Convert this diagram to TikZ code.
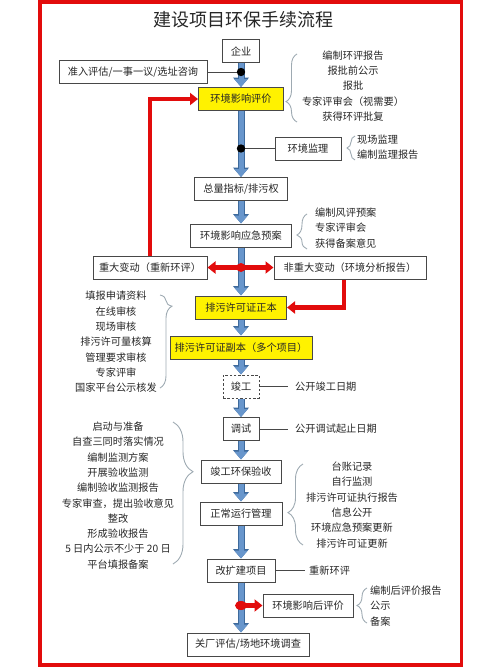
\documentclass[tikz,border=0pt]{standalone}
\usepackage{fontspec}
\setmainfont{Noto Sans CJK SC}
\usepackage{xcolor}
\usepackage{tikz}
\usetikzlibrary{arrows.meta,decorations.pathreplacing}
\definecolor{framered}{RGB}{226,12,12}
\definecolor{flowfill}{RGB}{104,150,204}
\definecolor{flowedge}{RGB}{62,106,156}
\definecolor{bracegray}{RGB}{158,170,178}
\definecolor{boxedge}{RGB}{72,72,72}

\begin{document}
\begin{tikzpicture}[x=1pt,y=-1pt,
  font=\fontsize{10.2}{15.3}\selectfont,text=black!85,
  box/.style={draw=boxedge,line width=1pt,fill=white,minimum height=23pt,inner sep=0pt},
  ybox/.style={box,fill=yellow},
  flow/.style={draw=flowfill,line width=5pt,-{Triangle[width=13pt,length=8pt]},
    preaction={draw=flowedge,line width=7pt,-{Triangle[width=15.5pt,length=9.5pt]}}},
  redline/.style={draw=framered,line width=4.5pt,-{Triangle[width=12pt,length=8pt]}},
  thin/.style={draw=boxedge,line width=0.8pt},
  lbrace/.style={draw=bracegray,line width=0.9pt,decorate,decoration={brace,amplitude=#1}},
  listtext/.style={inner sep=0pt}]
\useasboundingbox (0,0) rectangle (500,667);
\draw[framered,line width=3.5pt](40,1.8) rectangle (461.5,665);
\node[font=\fontsize{18}{20}\selectfont] (title) at (243,20) {建设项目环保手续流程};
% main chain
\node[box,minimum width=37] (qiye) at (241,51) {企业};
\node[box,minimum width=148] (zhunru) at (133,72) {准入评估/一事一议/选址咨询};
\node[ybox,minimum width=85] (hpj) at (241,99) {环境影响评价};
\node[box,minimum width=66] (jianli) at (308,148.5) {环境监理};
\node[box,minimum width=93] (zongliang) at (241,189) {总量指标/排污权};
\node[box,minimum width=101] (yuan) at (241,235.5) {环境影响应急预案};
\node[box,minimum width=114] (zhongda) at (150,267.5) {重大变动（重新环评）};
\node[box,minimum width=152] (feizhongda) at (350,267.5) {非重大变动（环境分析报告）};
\node[ybox,minimum width=91] (zhengben) at (241,307.5) {排污许可证正本};
\node[ybox,minimum width=142] (fuben) at (241,347.5) {排污许可证副本（多个项目）};
\node[box,dashed,dash pattern=on 2.5pt off 1.8pt,minimum width=36] (jungong) at (241,386.5) {竣工};
\node[box,minimum width=36] (tiaoshi) at (241,429) {调试};
\node[box,minimum width=80] (yanshou) at (241,471.5) {竣工环保验收};
\node[box,minimum width=82] (yunxing) at (241,513.5) {正常运行管理};
\node[box,minimum width=68] (gaikuo) at (241,570.5) {改扩建项目};
\node[box,minimum width=90] (houpj) at (308,605.5) {环境影响后评价};
\node[box,minimum width=122] (guanchang) at (248,644.5) {关厂评估/场地环境调查};
\foreach \a/\b in {qiye/hpj,hpj/zongliang,zongliang/yuan,yuan/zhengben,zhengben/fuben,
  fuben/jungong,jungong/tiaoshi,tiaoshi/yanshou,yanshou/yunxing,yunxing/gaikuo,gaikuo/guanchang}
  \draw[flow](\a.south)--(\a.south |- \b.north);
% side links
\coordinate (dot1) at (qiye.south |- zhunru.east);
\coordinate (dot2) at (hpj.south |- jianli.west);
\draw[thin](zhunru.east)--(dot1);
\draw[thin](dot2)--(jianli.west);
\fill[black](dot1) circle (4.2);
\fill[black](dot2) circle (4.2);
% red links
\coordinate (dot3) at (yuan.south |- zhongda.east);
\draw[redline](zhongda.north) |- (hpj.west);
\draw[redline,{Triangle[width=12pt,length=8pt]}-{Triangle[width=12pt,length=8pt]}](zhongda.east)--(feizhongda.west);
\fill[framered](dot3) circle (4.5);
\draw[redline]([xshift=-6pt]feizhongda.south) |- (zhengben.east);
\coordinate (dot4) at (gaikuo.south |- houpj.west);
\draw[redline](dot4)--(houpj.west);
\fill[framered](dot4) ellipse (6 and 4.5);
% labels
\node[listtext,anchor=west] (gkjg) at (295,386.5) {公开竣工日期};
\node[listtext,anchor=west] (gktc) at (295,429) {公开调试起止日期};
\node[listtext,anchor=west] (cxhp) at (309,570.5) {重新环评};
\draw[thin](jungong.east)--([xshift=-7pt]gkjg.west);
\draw[thin](tiaoshi.east)--([xshift=-7pt]gktc.west);
\draw[thin](gaikuo.east)--([xshift=-4pt]cxhp.west);
% lists
\node[listtext,align=center] (hpjlist) at (353,86) {编制环评报告\\报批前公示\\报批\\专家评审会（视需要）\\获得环评批复};
\node[listtext,align=left,anchor=west] (jianlilist) at (357,147) {现场监理\\编制监理报告};
\node[listtext,align=left,anchor=west] (yuanlist) at (315,228) {编制风评预案\\专家评审会\\获得备案意见};
\node[listtext,align=center] (zhengbenlist) at (116,342) {填报申请资料\\在线审核\\现场审核\\排污许可量核算\\管理要求审核\\专家评审\\国家平台公示核发};
\node[listtext,align=center] (yanshoulist) at (118,495.5) {启动与准备\\自查三同时落实情况\\编制监测方案\\开展验收监测\\编制验收监测报告\\专家审查，提出验收意见\\整改\\形成验收报告\\5 日内公示不少于 20 日\\平台填报备案};
\node[listtext,align=center] (yunxinglist) at (352,505) {台账记录\\自行监测\\排污许可证执行报告\\信息公开\\环境应急预案更新\\排污许可证更新};
\node[listtext,align=left,anchor=west] (houpjlist) at (370,606) {编制后评价报告\\公示\\备案};
% braces
\draw[lbrace=11pt,decoration={aspect=0.7,mirror}](297,54)--(297,122);
\draw[lbrace=8pt,decoration={aspect=0.5,mirror}](355,136)--(355,160);
\draw[lbrace=10pt,decoration={aspect=0.6,mirror}](307,214)--(307,249);
\draw[lbrace=12pt,decoration={aspect=0.12}](160,295)--(160,388);
\draw[lbrace=20pt,decoration={aspect=0.35}](173,422)--(173,564);
\draw[lbrace=15pt,decoration={aspect=0.6,mirror}](303,464)--(303,545);
\draw[lbrace=10pt,decoration={aspect=0.5,mirror}](367,588)--(367,623);
\end{tikzpicture}
\end{document}
